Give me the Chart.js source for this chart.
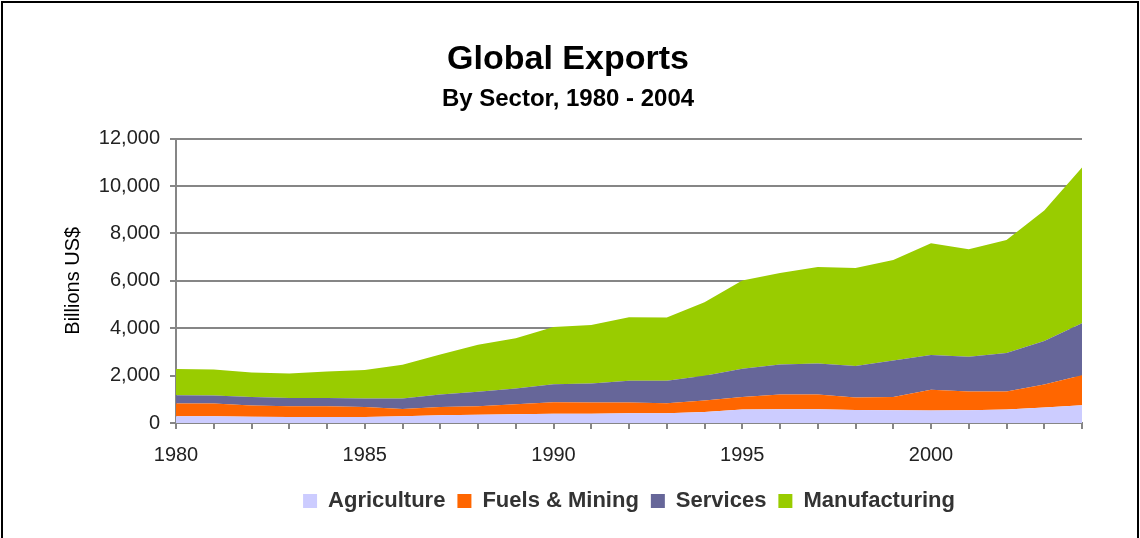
<!DOCTYPE html>
<html>
<head>
<meta charset="utf-8">
<script src="https://cdn.jsdelivr.net/npm/chart.js@4"></script>
<style>
  body { margin: 0; background: #fff; }
  #wrap { position: relative; width: 1140px; height: 538px; overflow: hidden; }
  #frame { position: absolute; left: 1px; top: 1px; width: 1134px; height: 600px; border: 2px solid #000; pointer-events: none; }
  canvas { position: absolute; left: 0; top: 0; }
</style>
</head>
<body>
<div id="wrap">
  <canvas id="myChart" width="1140" height="538"></canvas>
  <div id="frame"></div>
</div>
<script>
// data (billions US$)
const years = ['1980','1981','1982','1983','1984','1985','1986','1987','1988','1989','1990','1991','1992',
               '1993','1994','1995','1996','1997','1998','1999','2000','2001','2002','2003','2004'];
const agriculture = [282, 282, 268, 254, 254, 254, 282, 325, 353, 367, 395, 395, 410,
                     410, 466, 565, 579, 579, 551, 537, 523, 537, 565, 650, 749];
const fuelsMining = [537, 537, 466, 452, 452, 424, 311, 353, 353, 424, 481, 467, 452,
                     423, 480, 537, 621, 621, 522, 565, 875, 791, 763, 974, 1271];
const services = [353, 339, 368, 353, 353, 353, 438, 522, 608, 664, 762, 805, 918,
                  947, 1046, 1186, 1272, 1314, 1328, 1539, 1469, 1469, 1624, 1836, 2189];
const manufacturing = [1102, 1102, 1031, 1031, 1116, 1201, 1427, 1695, 1991, 2118, 2416, 2471, 2683,
                       2669, 3107, 3729, 3856, 4068, 4139, 4238, 4718, 4534, 4774, 5509, 6568];
const yTicks = [0, 2000, 4000, 6000, 8000, 10000, 12000];

const font = "Arial, 'Liberation Sans', sans-serif";
const gray = '#868686';

function area(label, values, color, fill) {
  return {
    label: label,
    data: values,
    backgroundColor: color,
    borderColor: color,
    borderWidth: 0,
    pointRadius: 0,
    fill: fill,
    tension: 0
  };
}

const data = {
  labels: years,
  datasets: [
    area('Agriculture', agriculture, '#CCCCFF', 'origin'),
    area('Fuels & Mining', fuelsMining, '#FF6600', '-1'),
    area('Services', services, '#666699', '-1'),
    area('Manufacturing', manufacturing, '#99CC00', '-1')
  ]
};

const config = {
  type: 'line',
  data,
  options: {
    responsive: false,
    animation: false,
    layout: { padding: { top: 39, left: 54, right: 58, bottom: 16 } },
    plugins: {
      title: {
        display: true,
        text: 'Global Exports',
        color: '#000',
        font: { family: font, size: 34, weight: 'bold' },
        padding: { top: 0, bottom: 5 }
      },
      subtitle: {
        display: true,
        text: 'By Sector, 1980 - 2004',
        color: '#000',
        font: { family: font, size: 24, weight: 'bold' },
        padding: { top: 0, bottom: 25 }
      },
      legend: {
        position: 'bottom',
        fullSize: false,
        labels: {
          boxWidth: 14,
          boxHeight: 14,
          padding: 12,
          color: '#333',
          font: { family: font, size: 22, weight: 'bold' }
        }
      },
      tooltip: { enabled: false }
    },
    scales: {
      x: {
        offset: false,
        border: { color: gray, width: 2 },
        grid: { drawOnChartArea: false, drawTicks: true, tickLength: 6, color: gray, lineWidth: 2 },
        afterFit: function (s) { s.height -= 3; },
        ticks: {
          autoSkip: false,
          maxRotation: 0,
          padding: 14,
          color: '#222',
          font: { family: font, size: 20 },
          callback: function (value, index) {
            const y = years[index];
            return Number(y) % 5 === 0 ? y : '';
          }
        }
      },
      y: {
        stacked: true,
        min: 0,
        max: 12000,
        afterBuildTicks: function (axis) { axis.ticks = yTicks.map(v => ({ value: v })); },
        afterFit: function (s) { s.width = 122; },
        border: { color: gray, width: 2 },
        grid: { color: gray, lineWidth: 2, tickLength: 6 },
        title: {
          display: true,
          text: 'Billions US$',
          color: '#000',
          font: { family: font, size: 20 },
          padding: { top: 7, bottom: 12 }
        },
        ticks: {
          padding: 10,
          color: '#222',
          font: { family: font, size: 20 },
          callback: v => v.toLocaleString('en-US')
        }
      }
    }
  }
};

const myChart = new Chart(document.getElementById('myChart'), config);
</script>
</body>
</html>
